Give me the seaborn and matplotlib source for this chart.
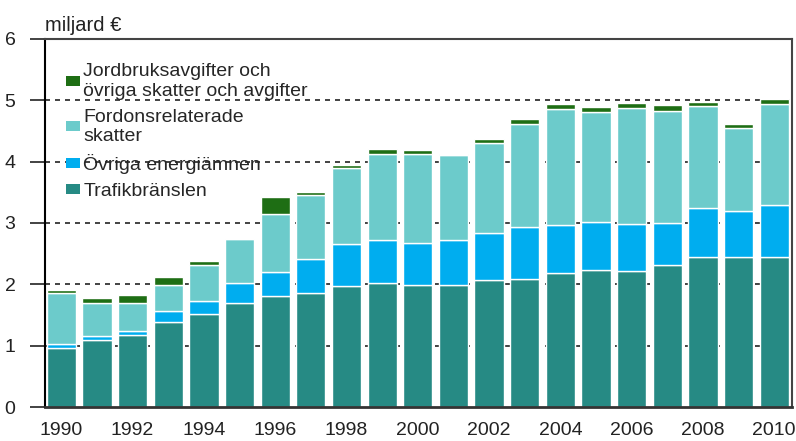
import numpy as np
import pandas as pd
import matplotlib
matplotlib.use("Agg")
import matplotlib.pyplot as plt
import seaborn as sns
from matplotlib.patches import Patch

# data (miljard €), per year
years = list(range(1990, 2011))
trafik = [0.97, 1.09, 1.17, 1.39, 1.52, 1.70, 1.81, 1.86, 1.98, 2.02, 1.99,
          1.99, 2.07, 2.09, 2.18, 2.23, 2.21, 2.31, 2.44, 2.44, 2.44]
energi = [0.05, 0.07, 0.07, 0.18, 0.21, 0.32, 0.39, 0.55, 0.67, 0.70, 0.68,
          0.73, 0.76, 0.85, 0.78, 0.78, 0.78, 0.69, 0.81, 0.76, 0.86]
fordon = [0.84, 0.54, 0.46, 0.42, 0.58, 0.72, 0.94, 1.05, 1.25, 1.41, 1.45,
          1.38, 1.47, 1.68, 1.89, 1.79, 1.89, 1.83, 1.66, 1.34, 1.63]
jord = [0.04, 0.07, 0.13, 0.13, 0.07, 0.0, 0.29, 0.04, 0.05, 0.08, 0.07,
        0.03, 0.07, 0.07, 0.09, 0.09, 0.07, 0.09, 0.06, 0.07, 0.09]

labels = ["Trafikbränslen", "Övriga energiämnen",
          "Fordonsrelaterade\nskatter",
          "Jordbruksavgifter och\növriga skatter och avgifter"]
colors = ["#268a84", "#00adef", "#6ccbcb", "#1e6e14"]

df = pd.DataFrame({"year": [str(y) for y in years], "trafik": trafik,
                   "energi": energi, "fordon": fordon, "jord": jord})

sns.set_style("white")
plt.rcParams["font.family"] = ["Liberation Sans", "DejaVu Sans"]

fig = plt.figure(figsize=(7.96, 4.41), dpi=100)
ax = fig.add_axes([0.056, 0.077, 0.939, 0.835])

bottom = np.zeros(len(years))
for col, c in zip(["trafik", "energi", "fordon", "jord"], colors):
    sns.barplot(data=df, x="year", y=col, color=c, bottom=bottom,
                width=0.82, edgecolor="white", linewidth=1.0,
                saturation=1, ax=ax, zorder=2)
    bottom = bottom + df[col].values

ax.set_ylim(0, 6)
ax.set_xlim(-0.47, 20.5)
ax.set_yticks(range(0, 7))
ax.set_xlabel("")
ax.set_ylabel("")
for y in range(1, 6):
    ax.axhline(y, color="#222222", lw=1.2, ls=(0, (3, 3)), zorder=1)

ax.set_xticks(range(len(years)))
ax.set_xticklabels([str(y) if y % 2 == 0 else "" for y in years])
ax.tick_params(axis="x", length=0, pad=11, labelsize=14, colors="#222222")
ax.tick_params(axis="y", length=11, width=1.2, direction="out", pad=10,
               labelsize=14, colors="#222222", left=True)
ax.spines["left"].set_color("black")
ax.spines["left"].set_linewidth(1.5)
ax.spines["bottom"].set_color("#333333")
ax.spines["bottom"].set_linewidth(2)
for s in ["top", "right"]:
    ax.spines[s].set_color("#444444")
    ax.spines[s].set_linewidth(1.5)

fig.text(0.056, 0.93, "miljard €", fontsize=14.5, color="#222222")

handles = [Patch(facecolor=c, edgecolor="none") for c in colors][::-1]
leg = ax.legend(handles, labels[::-1], loc="upper left",
                bbox_to_anchor=(0.018, 0.955), frameon=False, fontsize=14,
                handlelength=0.75, handleheight=0.4, handletextpad=0.15,
                labelspacing=0.45, borderaxespad=0)

fig.savefig("out.png", dpi=100)
